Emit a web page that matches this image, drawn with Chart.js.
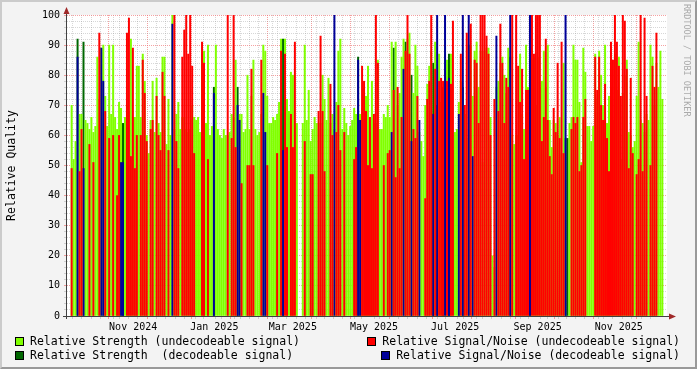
<!DOCTYPE html>
<html>
<head>
<meta charset="utf-8">
<script src="https://cdn.jsdelivr.net/npm/chart.js@4"></script>
<style>
  body { margin: 0; background: #f3f3f3; }
  #wrap { position: relative; width: 697px; height: 369px; background: #f3f3f3; overflow: hidden; font-family: "DejaVu Sans Mono", monospace; }
  #frame { position: absolute; left: 0; top: 0; width: 697px; height: 369px; box-sizing: border-box; border-style: solid; border-width: 2px; border-color: #cbcbcb #999 #999 #cbcbcb; pointer-events: none; }
  .leg { position: absolute; display: flex; align-items: center; font-size: 11.5px; line-height: 14px; white-space: pre; color: #000; }
  .box { width: 7px; height: 7px; border: 1px solid #000; margin-right: 6px; }
  #credit { position: absolute; left: 682px; top: 4px; writing-mode: vertical-rl; font-size: 8.5px; color: #aaa; }
</style>
</head>
<body>
<div id="wrap">
  <canvas id="myChart" width="697" height="369"></canvas>
  <div id="frame"></div>
  <div class="leg" style="left:15px;top:334px"><span class="box" style="background:#80ff00"></span>Relative Strength (undecodeable signal)</div>
  <div class="leg" style="left:15px;top:348px"><span class="box" style="background:#006600"></span>Relative Strength  (decodeable signal)</div>
  <div class="leg" style="right:17px;top:334px"><span class="box" style="background:#ff0000"></span>Relative Signal/Noise (undecodeable signal)</div>
  <div class="leg" style="right:17px;top:348px"><span class="box" style="background:#000099"></span>Relative Signal/Noise (decodeable signal)</div>
  <div id="credit">RRDTOOL / TOBI OETIKER</div>
</div>
<script>
// time range of the graph (days since 1 Oct 2024)
var startDate = Date.UTC(2024, 9, 1);
var spanDays = 445.5;

// relative strength, one value per 2-pixel column
var strength = [
  70,52,58,92,67,67,91,65,64,62,66,61,63,86,72,89,90,73,63,90,
  67,90,66,62,71,69,64,66,70,68,92,66,66,83,83,66,87,78,60,54,
  65,78,61,79,64,61,86,86,57,72,60,100,62,67,71,62,66,66,62,61,
  62,70,66,65,66,61,87,88,64,90,60,63,76,90,62,60,59,62,60,60,
  61,67,66,85,76,67,67,61,62,80,62,73,85,62,60,61,67,90,88,73,
  64,64,66,65,67,71,92,92,92,72,68,81,80,64,64,null,null,64,90,65,
  75,58,62,66,64,64,64,80,72,65,79,64,67,62,71,88,92,62,69,64,
  60,63,65,69,67,86,67,69,76,73,83,61,78,64,64,85,62,62,67,66,
  70,66,91,89,91,70,74,86,92,91,92,94,80,74,90,83,61,58,53,70,
  77,83,88,84,91,70,87,71,76,90,85,87,87,55,61,62,71,78,76,67,
  59,90,90,73,88,91,76,88,51,88,89,89,66,20,16,76,78,84,86,80,
  74,89,86,60,57,60,60,87,67,62,90,76,88,85,86,70,86,76,78,88,
  76,90,65,56,65,64,60,66,54,84,59,59,64,66,90,85,85,71,51,89,
  81,63,63,58,63,87,72,88,80,70,90,64,73,76,65,87,75,86,52,74,
  80,85,61,60,56,58,73,91,65,64,61,67,65,90,86,70,84,76,88,72
];

// relative signal/noise, same columns (null = none)
var snr = [
  49,null,null,86,48,62,49,null,null,57,null,51,null,null,94,89,78,68,null,59,
  null,60,null,40,60,51,51,null,94,99,53,89,49,60,null,60,85,74,58,null,
  62,65,null,73,60,55,81,73,null,55,null,97,100,58,49,null,86,95,100,87,
  100,83,54,null,null,null,91,84,null,52,null,null,74,null,null,null,null,null,null,100,
  null,59,100,56,70,65,44,null,null,50,50,82,50,null,null,null,85,74,61,50,
  null,null,null,null,54,null,88,55,87,56,null,67,56,91,null,null,null,null,58,null,
  null,47,47,null,null,68,93,68,48,null,null,77,60,100,61,70,55,null,61,null,
  null,null,null,52,56,85,65,83,78,68,50,66,49,67,100,84,null,null,50,null,
  54,55,61,75,46,76,49,66,82,88,100,87,58,62,59,73,65,null,null,39,
  72,78,100,67,82,100,78,79,78,100,78,79,77,98,null,null,67,87,100,70,
  94,100,97,53,85,84,64,100,100,100,93,87,60,null,72,93,68,97,84,64,
  79,76,100,100,null,100,83,71,82,52,75,75,100,100,87,100,100,100,58,66,
  92,65,53,47,69,61,84,59,91,54,100,null,null,62,66,64,66,48,50,66,
  72,null,null,null,null,86,75,86,70,65,77,59,48,91,85,100,91,83,73,100,
  98,82,49,79,54,null,47,52,100,48,99,73,null,50,83,76,94,null,null,null
];

// columns where the signal was decodeable
var decodedStrengthCols = [3,6,26,72,84,107,145,163,169,172,183,185,188,191,198,201,222,232,250,251];
var decodedSnrCols = [3,6,15,16,25,26,51,72,84,85,97,98,107,133,145,146,162,168,172,176,183,185,189,191,196,198,201,203,215,222,232,250];

var labelMonths = [[2024,10],[2025,0],[2025,2],[2025,4],[2025,6],[2025,8],[2025,10]];
var monthNames = ["Jan","Feb","Mar","Apr","May","Jun","Jul","Aug","Sep","Oct","Nov","Dec"];

var dayMs = 86400000;
var colDays = spanDays / strength.length;
var dayOf = (y, m, d) => (Date.UTC(y, m, d) - startDate) / dayMs;

// x ticks: weekly (sundays) minor grid, monthly major grid, labels mid-month
var xTicks = [];
for (let d = 5; d < spanDays; d += 7) xTicks.push({ day: d, kind: "week", label: "" });
for (let y = 2024, m = 10; dayOf(y, m, 1) < spanDays; m++) {
    if (m > 11) { m = 0; y++; }
    let d = dayOf(y, m, 1);
    xTicks = xTicks.filter(t => t.day !== d);
    xTicks.push({ day: d, kind: "month", label: "" });
}
labelMonths.forEach(([y, m]) => {
    xTicks.push({ day: dayOf(y, m, 1) + 16, kind: "label", label: monthNames[m] + " " + y });
});
xTicks.sort((a, b) => a.day - b.day);

var yTicks = [];
for (let v = 0; v <= 100; v += 2) yTicks.push(v);

var minorGrid = "rgba(150,150,150,0.38)";
var majorGrid = "rgba(240,110,110,0.65)";

function pick(values, cols, want) {
    return values.map((v, i) => ({ x: (i + 0.5) * colDays, y: cols.includes(i) === want ? v : null }));
}

var barStyle = { barPercentage: 1, categoryPercentage: 1, grouped: false, borderWidth: 0 };

var rrdFrame = {
    id: "rrdFrame",
    beforeDraw(chart) {
        const { ctx, chartArea: a } = chart;
        ctx.save();
        ctx.fillStyle = "#ffffff";
        ctx.fillRect(a.left, a.top, a.right - a.left, a.bottom - a.top);
        ctx.restore();
    },
    afterDraw(chart) {
        const { ctx, chartArea: a } = chart;
        ctx.save();
        ctx.strokeStyle = "#404040";
        ctx.lineWidth = 1;
        ctx.beginPath();
        ctx.moveTo(a.left - 0.5, a.bottom + 3);
        ctx.lineTo(a.left - 0.5, a.top - 4);
        ctx.moveTo(a.left - 4, a.bottom + 0.5);
        ctx.lineTo(a.right + 4, a.bottom + 0.5);
        ctx.stroke();
        ctx.fillStyle = "#a02828";
        ctx.beginPath();
        ctx.moveTo(a.left - 0.5, a.top - 8);
        ctx.lineTo(a.left - 3.5, a.top - 1);
        ctx.lineTo(a.left + 2.5, a.top - 1);
        ctx.fill();
        ctx.beginPath();
        ctx.moveTo(a.right + 9, a.bottom + 0.5);
        ctx.lineTo(a.right + 2, a.bottom - 2.5);
        ctx.lineTo(a.right + 2, a.bottom + 3.5);
        ctx.fill();
        ctx.restore();
    }
};

var tickFont = { family: "DejaVu Sans Mono", size: 10 };

var ctx = document.getElementById("myChart").getContext("2d");
var chart = new Chart(ctx, {
    type: "bar",
    data: {
        datasets: [
            Object.assign({ label: "Relative Signal/Noise (undecodeable signal)", data: pick(snr, decodedSnrCols, false), backgroundColor: "#ff0000", order: 0 }, barStyle),
            Object.assign({ label: "Relative Signal/Noise (decodeable signal)", data: pick(snr, decodedSnrCols, true), backgroundColor: "#000099", order: 0 }, barStyle),
            Object.assign({ label: "Relative Strength (undecodeable signal)", data: pick(strength, decodedStrengthCols, false), backgroundColor: "#80ff00", order: 1 }, barStyle),
            Object.assign({ label: "Relative Strength  (decodeable signal)", data: pick(strength, decodedStrengthCols, true), backgroundColor: "#006600", order: 1 }, barStyle)
        ]
    },
    options: {
        responsive: false,
        animation: false,
        devicePixelRatio: 1,
        layout: { padding: { top: 15, right: 30, bottom: 0, left: 0 } },
        plugins: { legend: { display: false }, tooltip: { enabled: false } },
        scales: {
            x: {
                type: "linear",
                min: 0,
                max: spanDays,
                z: 1,
                afterBuildTicks: s => { s.ticks = xTicks.map(t => ({ value: t.day })); },
                afterFit: s => { s.height = 53; },
                ticks: {
                    autoSkip: false, maxRotation: 0, minRotation: 0, padding: 2,
                    color: "#000", font: tickFont,
                    callback: (v, i) => xTicks[i] ? xTicks[i].label : ""
                },
                grid: {
                    lineWidth: 1, tickLength: 3,
                    color: c => { const t = xTicks[c.index]; return !t || t.kind === "label" ? "rgba(0,0,0,0)" : (t.kind === "month" ? majorGrid : minorGrid); },
                    tickColor: c => { const t = xTicks[c.index]; return !t || t.kind === "label" ? "rgba(0,0,0,0)" : (t.kind === "month" ? majorGrid : minorGrid); }
                },
                border: { display: false, dash: [1, 1] }
            },
            y: {
                min: 0,
                max: 100,
                z: 1,
                afterBuildTicks: s => { s.ticks = yTicks.map(v => ({ value: v })); },
                afterFit: s => { s.width = 67; },
                ticks: {
                    autoSkip: false, padding: 4, color: "#000", font: tickFont,
                    callback: v => v % 10 === 0 ? v : ""
                },
                grid: {
                    lineWidth: 1, tickLength: 3,
                    color: c => c.tick && c.tick.value % 10 === 0 ? majorGrid : minorGrid,
                    tickColor: c => c.tick && c.tick.value % 10 === 0 ? majorGrid : minorGrid
                },
                border: { display: false, dash: [1, 1] },
                title: {
                    display: true, text: "Relative Quality", color: "#000",
                    font: { family: "DejaVu Sans Mono", size: 11.5 },
                    padding: { top: 5, bottom: 0 }
                }
            }
        }
    },
    plugins: [rrdFrame]
});
</script>
</body>
</html>
